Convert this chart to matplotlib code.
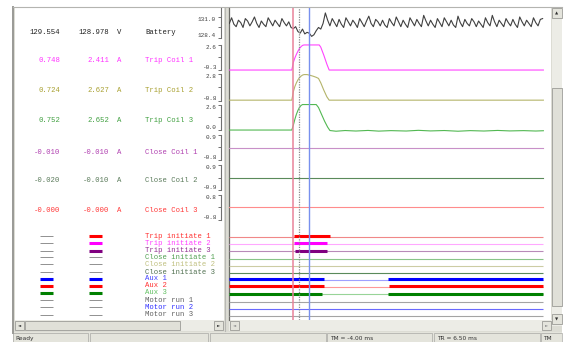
import numpy as np
import matplotlib
matplotlib.use("Agg")
import matplotlib.pyplot as plt
from matplotlib.patches import Rectangle

W, H = 566, 342
DPI = 100

plt.rcParams.update({
    "font.family": "Liberation Mono",
    "axes.linewidth": 0.8,
})

# cursors (ms)
TM = -4.00
TR = 6.50
XLIM = (-46.2, 165.0)

# ---------------------------------------------------------------------------
# Analog channels
# ---------------------------------------------------------------------------
ANALOG_NAMES = ["Battery", "Trip Coil 1", "Trip Coil 2", "Trip Coil 3",
                "Close Coil 1", "Close Coil 2", "Close Coil 3"]
ANALOG_UNITS = ["V", "A", "A", "A", "A", "A", "A"]
TM_READ = ["129.554", "0.748", "0.724", "0.752", "-0.010", "-0.020", "-0.000"]
TR_READ = ["128.978", "2.411", "2.627", "2.652", "-0.010", "-0.010", "-0.000"]
ANALOG_TEXT_COLORS = ["#202020", "#ff33ff", "#a8a030", "#40a040",
                      "#b040b0", "#5a7a5a", "#ff3838"]
ANALOG_LINE_COLORS = ["#404040", "#ff44ff", "#b4b46a", "#52b852",
                      "#c890c8", "#5a8a5a", "#ff8c8c"]
# scale labels of each channel
AX_LO = [128.4, -0.3, -0.8, 0.0, -0.8, -0.9, -0.8]
AX_HI = [131.0, 2.6, 2.8, 2.6, 0.9, 0.9, 0.8]
AX_LIM = [(128.15, 132.11), (-0.47, 2.88), (-1.0, 3.07), (-0.2, 2.86),
          (-0.94, 1.10), (-1.04, 1.12), (-0.93, 0.99)]

# battery voltage, sampled every 1.5 ms from -46 ms
BATT_T0, BATT_DT = -46.0, 1.5
BATT_V = [
    130.2, 130.9, 130.1, 129.8, 130.6, 130.3, 129.7, 130.8, 130.5, 129.9,
    130.4, 131.0, 130.2, 129.7, 130.5, 130.1, 129.8, 130.9, 130.4, 129.9,
    130.6, 130.2, 129.8, 130.8, 130.3, 129.9, 130.4, 129.7, 129.55, 129.8,
    129.2, 129.0, 129.5, 128.9, 129.1, 128.98, 128.6, 128.8, 129.3, 129.7,
    129.5, 130.2, 131.5, 130.6, 129.9, 130.8, 130.3, 129.8, 130.7, 130.1,
    129.7, 130.9, 130.4, 129.9, 130.6, 130.2, 129.7, 130.8, 130.3, 129.8,
    130.5, 131.1, 130.2, 129.8, 130.7, 130.4, 129.9, 130.6, 130.0, 129.7,
    130.8, 130.3, 129.9, 131.0, 130.4, 129.8, 130.6, 130.1, 129.7, 130.9,
    130.4, 129.9, 130.7, 130.2, 129.8, 131.2, 130.5, 129.9, 130.6, 130.1,
    129.7, 130.8, 130.3, 129.8, 130.9, 130.4, 129.9, 130.6, 130.0, 129.7,
    131.1, 130.3, 129.8, 130.7, 130.2, 129.9, 130.8, 130.4, 129.8, 130.5,
    130.1, 129.7, 130.9, 130.3, 129.9, 131.2, 130.4, 129.8, 130.6, 130.2,
    129.8, 130.8, 130.3, 129.9, 130.7, 130.1, 129.7, 131.0, 130.4, 129.9,
    130.6, 130.2, 129.8, 130.9, 130.3, 129.9, 130.7, 130.8,
]

TC1_T = [-46, -5, -4, -3, -2, -1, 0, 1, 2, 3, 13, 14, 16, 18, 19.5, 160]
TC1_I = [-0.25, -0.25, 0.6, 1.1, 1.5, 1.85, 2.15, 2.35, 2.5, 2.55, 2.55,
         2.3, 1.4, 0.4, -0.25, -0.25]

TC2_T = [-46, -5, -4, -3, -2, -1, 0, 1, 2, 3, 5, 7, 9, 11, 12.5, 14, 16,
         18, 19.5, 160]
TC2_I = [-0.75, -0.75, 0.4, 1.1, 1.6, 2.0, 2.3, 2.5, 2.65, 2.72, 2.72,
         2.62, 2.5, 2.35, 2.2, 1.6, 0.6, -0.3, -0.75, -0.75]

TC3_T = [-46, -5, -4, -3, -2, -1, 0, 1, 2, 11, 12.5, 14.5, 16.5, 18.5, 20,
         24, 30, 37, 45, 52, 60, 70, 78, 86, 95, 104, 112, 121, 130, 138,
         147, 155, 160]
TC3_I = [0.0, 0.0, 0.5, 1.1, 1.6, 2.0, 2.3, 2.5, 2.6, 2.6, 2.3, 1.6, 0.9,
         0.3, -0.05, -0.12, -0.05, -0.1, -0.04, -0.11, -0.06, -0.1, -0.03,
         -0.09, -0.05, -0.12, -0.06, -0.1, -0.04, -0.09, -0.06, -0.1, -0.07]

CC1_T, CC1_I = [-46, 160], [-0.01, -0.01]
CC2_T, CC2_I = [-46, 160], [-0.015, -0.015]
CC3_T, CC3_I = [-46, 160], [0.0, 0.0]

# ---------------------------------------------------------------------------
# Digital channels
# ---------------------------------------------------------------------------
DIG_NAMES = ["Trip initiate 1", "Trip initiate 2", "Trip initiate 3",
             "Close initiate 1", "Close initiate 2", "Close initiate 3",
             "Aux 1", "Aux 2", "Aux 3", "Motor run 1", "Motor run 2",
             "Motor run 3"]
DIG_TEXT_COLORS = ["#ff3030", "#ff40ff", "#903090", "#50a050", "#c0c080",
                   "#507050", "#4040ff", "#ff3030", "#60c060", "#606060",
                   "#3030ff", "#606060"]
DIG_THIN_COLORS = ["#f08888", "#ffa8ff", "#b88ab8", "#88c488", "#cccca4",
                   "#5a8a5a", "#a0a0ff", "#ff9898", "#98d498", "#a4a4a4",
                   "#6a6aff", "#a4a4a4"]
DIG_THICK_COLORS = ["#ff0000", "#ff00ff", "#800080", "#50a050", "#c0c080",
                    "#507050", "#0000ff", "#ff0000", "#008000", "#808080",
                    "#3030ff", "#808080"]
DIG_SPAN = (-46, 160)
DIG_HIGH = [
    [(-3.8, 20.3)],
    [(-3.8, 17.8)],
    [(-2.6, 17.8)],
    [], [], [],
    [(-46, 15.8), (57.9, 160)],
    [(-46, 15.8), (58.5, 160)],
    [(-46, 14.5), (57.9, 160)],
    [], [], [],
]

# ---------------------------------------------------------------------------
# layout (pixels)
# ---------------------------------------------------------------------------
PLOT_X0, PLOT_X1 = 229, 551
ANALOG_BANDS = [(8, 40), (42, 72), (72, 102), (102, 132), (132, 162),
                (162, 192), (192, 222)]
DIG_BAND = (222, 320)
DIG_YLIM = (11.56, -2.09)
ANALOG_ROW_Y = [32, 61, 91, 121, 152, 181, 210]
DIG_ROW_Y = [236, 243.3, 250.7, 257.3, 264, 272, 278.7, 285.7, 292.7,
             300, 307.3, 314.7]

GRAY = "#dcdcd4"
DARK = "#8c8c88"


def px_axes(fig, x0, y0, x1, y1):
    return fig.add_axes([x0 / W, 1 - y1 / H, (x1 - x0) / W, (y1 - y0) / H])


def is_high(intervals, t):
    return any(a <= t <= b for a, b in intervals)


def draw_chrome(ax):
    R = lambda x, y, w, h, **kw: ax.add_patch(Rectangle((x, y), w, h, **kw))
    # frame
    R(13, 7, 549, 326, facecolor=GRAY, edgecolor="none")
    R(15, 8, 209, 312, facecolor="white", edgecolor="none")
    R(229, 8, 322, 312, facecolor="white", edgecolor="none")
    ax.plot([13, 13], [7, 333], color="#9a9a96", lw=1.4)
    ax.plot([13, 562], [7, 7], color="#b4b4b0", lw=0.8)
    ax.plot([224.5, 224.5], [8, 331], color="#b8b8b4", lw=0.8)
    ax.plot([228.5, 228.5], [8, 320], color="#6c6c68", lw=0.9)
    # vertical scrollbar
    R(552, 8, 10, 318, facecolor="#ecece6", edgecolor="none")
    R(552, 8, 10, 10, facecolor="#e4e4dc", edgecolor=DARK, lw=0.5)
    ax.text(557, 13.5, "\u25b2", fontsize=3, ha="center", va="center",
            family="DejaVu Sans", color="#303030")
    R(552, 88, 10, 218, facecolor="#e0e0d8", edgecolor=DARK, lw=0.5)
    R(552, 314, 10, 10, facecolor="#e4e4dc", edgecolor=DARK, lw=0.5)
    ax.text(557, 319.5, "\u25bc", fontsize=3, ha="center", va="center",
            family="DejaVu Sans", color="#303030")
    # horizontal scrollbars
    R(15, 320, 209, 11, facecolor="#ecece6", edgecolor="none")
    R(15, 321, 9, 9, facecolor="#e4e4dc", edgecolor=DARK, lw=0.5)
    ax.text(19.5, 325.5, "\u25c4", fontsize=3, ha="center", va="center",
            family="DejaVu Sans", color="#303030")
    R(25, 321, 155, 9, facecolor="#e0e0d8", edgecolor=DARK, lw=0.5)
    R(214, 321, 9, 9, facecolor="#e4e4dc", edgecolor=DARK, lw=0.5)
    ax.text(218.5, 325.5, "\u25ba", fontsize=3, ha="center", va="center",
            family="DejaVu Sans", color="#303030")
    R(229, 320, 323, 11, facecolor="#ecece6", edgecolor="none")
    R(230, 321, 9, 9, facecolor="#e4e4dc", edgecolor=DARK, lw=0.5)
    ax.text(234.5, 325.5, "\u25c4", fontsize=3, ha="center", va="center",
            family="DejaVu Sans", color="#909090")
    R(542, 321, 9, 9, facecolor="#e4e4dc", edgecolor=DARK, lw=0.5)
    ax.text(546.5, 325.5, "\u25ba", fontsize=3, ha="center", va="center",
            family="DejaVu Sans", color="#909090")
    # status bar
    R(13, 332, 549, 10, facecolor="#e4e4dc", edgecolor="none")
    for x0, x1 in [(13, 88), (90, 208), (210, 326), (327, 432), (434, 540),
                   (541, 562)]:
        R(x0, 333, x1 - x0, 9, facecolor="none", edgecolor="#a8a8a4", lw=0.5)
    st = dict(fontsize=4.2, va="center", family="DejaVu Sans", color="#303030")
    ax.text(15, 338.5, "Ready", **st)
    ax.text(330, 338.5, f"TM = {TM:.2f} ms", **st)
    ax.text(437, 338.5, f"TR = {TR:.2f} ms", **st)
    ax.text(543, 338.5, "TM", **st)


def draw_left_panel(ax):
    fs = 5.2
    for i, name in enumerate(ANALOG_NAMES):
        y, c = ANALOG_ROW_Y[i], ANALOG_TEXT_COLORS[i]
        ax.text(60, y, TM_READ[i], ha="right", va="center", fontsize=fs, color=c)
        ax.text(109, y, TR_READ[i], ha="right", va="center", fontsize=fs, color=c)
        ax.text(117, y, ANALOG_UNITS[i], ha="left", va="center", fontsize=fs, color=c)
        ax.text(145, y, name, ha="left", va="center", fontsize=fs, color=c)
    for i, name in enumerate(DIG_NAMES):
        y = DIG_ROW_Y[i]
        ax.text(145, y, name, ha="left", va="center", fontsize=fs,
                color=DIG_TEXT_COLORS[i])
        for (x0, x1), t in [((40, 53), TM), ((89, 102), TR)]:
            if is_high(DIG_HIGH[i], t):
                ax.plot([x0, x1], [y, y], color=DIG_THICK_COLORS[i], lw=2.2,
                        solid_capstyle="butt")
            else:
                ax.plot([x0, x1], [y, y], color="#909090", lw=0.7,
                        solid_capstyle="butt")


def analog_axis(fig, i, t, v):
    y0, y1 = ANALOG_BANDS[i]
    ax = px_axes(fig, PLOT_X0, y0, PLOT_X1, y1)
    ax.set_facecolor("none")
    ax.plot(t, v, color=ANALOG_LINE_COLORS[i], lw=0.8)
    ax.set_xlim(*XLIM)
    ax.set_ylim(*AX_LIM[i])
    for s in ("top", "right", "bottom"):
        ax.spines[s].set_visible(False)
    ax.spines["left"].set_position(("outward", 5.8))
    lo, hi = AX_LO[i], AX_HI[i]
    top = AX_LIM[i][1] if i == 0 else hi
    ax.spines["left"].set_bounds(lo, top)
    ax.spines["left"].set_color("#707070")
    ax.set_xticks([])
    ax.set_yticks([lo, (lo + hi) / 2, hi])
    ax.set_yticklabels([f"{lo:.1f}", "", f"{hi:.1f}"])
    ax.tick_params(axis="y", length=2, width=0.7, color="#707070",
                   labelsize=4.3, pad=1.5, labelcolor="#404040")
    # keep the scale labels inside their bracket
    labels = ax.get_yticklabels()
    labels[0].set_verticalalignment("bottom")
    labels[2].set_verticalalignment("top")
    return ax


def main():
    fig = plt.figure(figsize=(W / DPI, H / DPI), dpi=DPI)
    fig.patch.set_facecolor("white")

    chrome = fig.add_axes([0, 0, 1, 1])
    chrome.set_xlim(0, W)
    chrome.set_ylim(H, 0)
    chrome.axis("off")
    draw_chrome(chrome)
    draw_left_panel(chrome)

    batt_t = BATT_T0 + BATT_DT * np.arange(len(BATT_V))
    series = [(batt_t, BATT_V), (TC1_T, TC1_I), (TC2_T, TC2_I),
              (TC3_T, TC3_I), (CC1_T, CC1_I), (CC2_T, CC2_I), (CC3_T, CC3_I)]
    for i, (t, v) in enumerate(series):
        analog_axis(fig, i, t, v)

    # digital channels
    dax = px_axes(fig, PLOT_X0, DIG_BAND[0], PLOT_X1, DIG_BAND[1])
    dax.set_facecolor("none")
    for i in range(len(DIG_NAMES)):
        dax.plot(DIG_SPAN, [i, i], color=DIG_THIN_COLORS[i], lw=0.8,
                 solid_capstyle="butt")
        for a, b in DIG_HIGH[i]:
            dax.plot([a, b], [i - 0.12, i - 0.12], color=DIG_THICK_COLORS[i],
                     lw=2.2, solid_capstyle="butt")
    dax.set_xlim(*XLIM)
    dax.set_ylim(*DIG_YLIM)
    dax.axis("off")

    # cursors over everything
    cax = px_axes(fig, PLOT_X0, 8, PLOT_X1, 320)
    cax.set_facecolor("none")
    cax.set_xlim(*XLIM)
    cax.axis("off")
    cax.axvline(TM, color="#e8829a", lw=1.1)
    cax.axvline(0.0, color="#8c8c8c", lw=0.9, ls=(0, (1, 1)))
    cax.axvline(TR, color="#7890ee", lw=1.0)

    fig.savefig("out.png", dpi=DPI)
    plt.close(fig)


if __name__ == "__main__":
    main()
